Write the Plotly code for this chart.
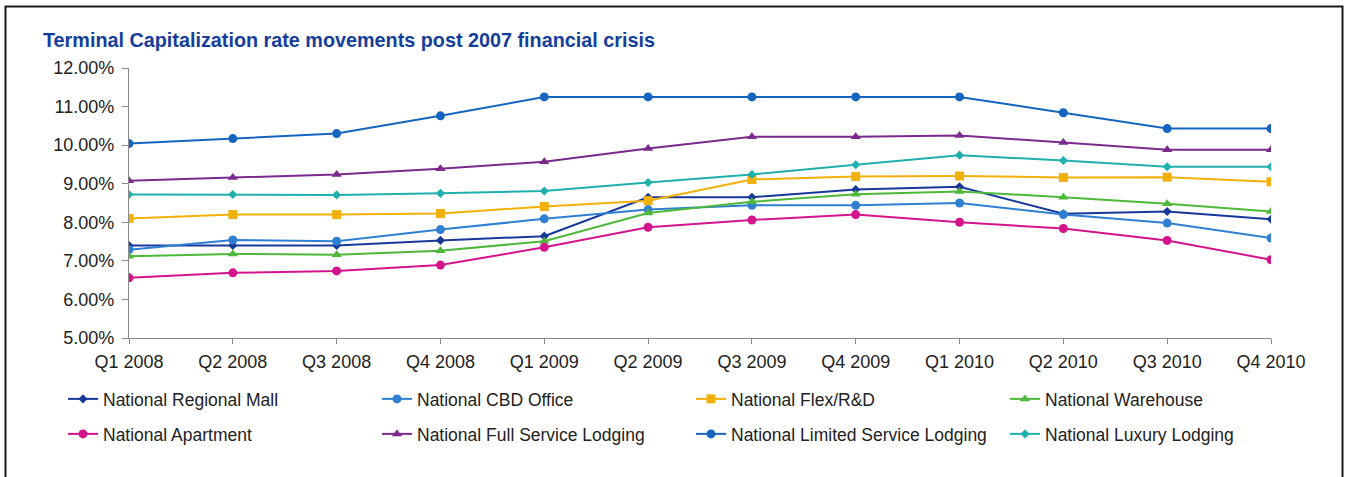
import plotly.graph_objects as go

quarters = ["Q1 2008", "Q2 2008", "Q3 2008", "Q4 2008", "Q1 2009", "Q2 2009",
            "Q3 2009", "Q4 2009", "Q1 2010", "Q2 2010", "Q3 2010", "Q4 2010"]

regional_mall = [7.40, 7.40, 7.40, 7.53, 7.64, 8.65, 8.65, 8.85, 8.92, 8.22, 8.28, 8.08]
cbd_office = [7.29, 7.54, 7.51, 7.81, 8.09, 8.33, 8.44, 8.44, 8.50, 8.20, 7.98, 7.59]
flex_rd = [8.10, 8.20, 8.20, 8.23, 8.41, 8.56, 9.11, 9.19, 9.20, 9.16, 9.17, 9.05]
warehouse = [7.12, 7.18, 7.16, 7.26, 7.51, 8.24, 8.53, 8.73, 8.80, 8.65, 8.48, 8.28]
apartment = [6.56, 6.69, 6.74, 6.89, 7.35, 7.87, 8.06, 8.20, 8.00, 7.84, 7.53, 7.03]
full_service = [9.08, 9.16, 9.24, 9.39, 9.57, 9.91, 10.22, 10.22, 10.25, 10.07, 9.88, 9.88]
limited_service = [10.04, 10.17, 10.30, 10.76, 11.25, 11.25, 11.25, 11.25, 11.25, 10.84, 10.43, 10.43]
luxury = [8.72, 8.72, 8.71, 8.75, 8.81, 9.03, 9.24, 9.49, 9.74, 9.60, 9.44, 9.44]

series = [
    ("National Regional Mall", regional_mall, "#17389A", "diamond", 7),
    ("National CBD Office", cbd_office, "#2F7FD3", "circle", 9),
    ("National Flex/R&D", flex_rd, "#F2B00A", "square", 9),
    ("National Warehouse", warehouse, "#4DB83A", "triangle-up", 9),
    ("National Apartment", apartment, "#D4148C", "circle", 9),
    ("National Full Service Lodging", full_service, "#7A2A8C", "triangle-up", 9),
    ("National Limited Service Lodging", limited_service, "#1565C0", "circle", 9),
    ("National Luxury Lodging", luxury, "#1FB0AE", "diamond", 7),
]

FONT = "Liberation Sans, Arial, sans-serif"
L, R, T, B = 129, 77, 68, 139
W, H = 1348, 477
pw, ph = W - L - R, H - T - B

def px_x(x):
    return (x - L) / pw

def px_y(y):
    return (H - B - y) / ph

# legend layout: 4 columns x 2 rows (legend box left x, row center y in pixels)
col_x = [63, 377, 691, 1005]
row_y = [399, 434]

fig = go.Figure()
legend_layouts = {}
for i, (name, vals, color, sym, size) in enumerate(series):
    key = "legend" if i == 0 else f"legend{i + 1}"
    fig.add_trace(go.Scatter(
        x=quarters, y=vals, name=name, mode="lines+markers",
        line=dict(color=color, width=2),
        marker=dict(symbol=sym, size=size, color=color),
        legend=key, showlegend=True,
    ))
    legend_layouts[key] = dict(
        orientation="h", xanchor="left", yanchor="middle",
        xref="container", yref="container",
        x=col_x[i % 4] / W, y=1 - row_y[i // 4] / H,
        font=dict(family=FONT, size=17.5, color="#222222"),
        bgcolor="rgba(0,0,0,0)", itemwidth=30, visible=True,
    )

fig.update_layout(
    width=W, height=H, showlegend=True,
    margin=dict(l=L, r=R, t=T, b=B, pad=0, autoexpand=False),
    paper_bgcolor="white", plot_bgcolor="white",
    font=dict(family=FONT, color="#222222"),
    title=dict(
        text="<b>Terminal Capitalization rate movements post 2007 financial crisis</b>",
        x=43 / W, xanchor="left", xref="container",
        y=1 - 40 / H, yanchor="middle", yref="container",
        font=dict(family=FONT, size=19.8, color="#153E9B"),
    ),
    xaxis=dict(
        type="category", range=[0, len(quarters) - 1],
        showgrid=False, zeroline=False,
        showline=True, linecolor="#8A8A8A", linewidth=1.2,
        ticks="outside", ticklen=5, tickcolor="#8A8A8A",
        tickfont=dict(family=FONT, size=18, color="#222222"),
        ticklabelstandoff=2,
    ),
    yaxis=dict(
        range=[5, 12], dtick=1, tick0=5,
        tickformat=".2f", ticksuffix="%",
        showgrid=False, zeroline=False,
        showline=True, linecolor="#8A8A8A", linewidth=1.2,
        ticks="outside", ticklen=6, tickcolor="#8A8A8A",
        tickfont=dict(family=FONT, size=18, color="#222222"),
        ticklabelstandoff=4,
    ),
    shapes=[dict(
        type="rect", xref="paper", yref="paper",
        x0=px_x(5.5), x1=px_x(1342.5), y0=px_y(490), y1=px_y(6.5),
        line=dict(color="#1A1A1A", width=2), fillcolor="rgba(0,0,0,0)",
        layer="above",
    )],
    **legend_layouts,
)

fig.write_html(
    "out.html",
    config={"displayModeBar": False},
    post_script="document.body.style.margin='0';document.body.style.overflow='hidden';",
)
